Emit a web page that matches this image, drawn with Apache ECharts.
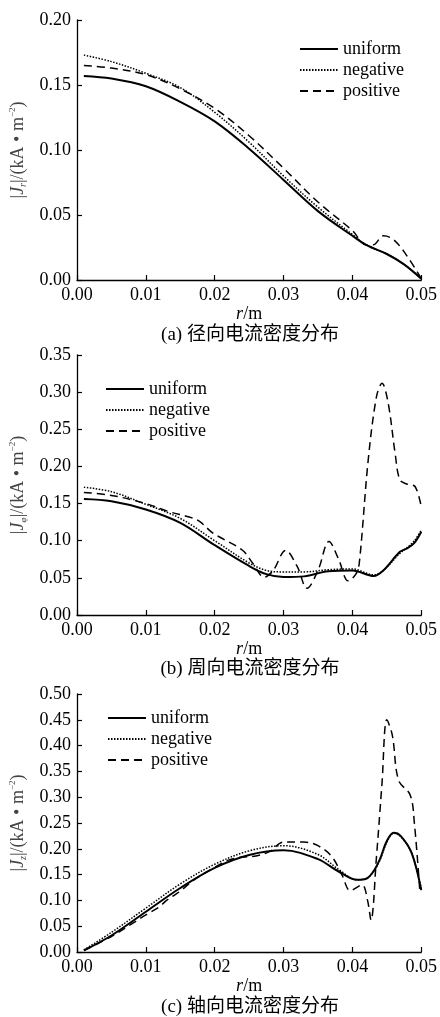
<!DOCTYPE html>
<html>
<head>
<meta charset="utf-8">
<title>电流密度分布</title>
<script src="https://cdn.jsdelivr.net/npm/echarts@6/dist/echarts.min.js"></script>
<style>
  html, body { margin: 0; padding: 0; background: #fff; }
  #chart { width: 440px; height: 1017px; }
</style>
</head>
<body>
<div id="chart"></div>
<script>
'use strict';

var FONT = '"Liberation Serif", "Noto Sans CJK SC", serif';

var seriesNames = ['uniform', 'negative', 'positive'];
var captions = ['(a) 径向电流密度分布', '(b) 周向电流密度分布', '(c) 轴向电流密度分布'];

// (a) radial |Jr|
var rA = [0.001, 0.005, 0.01, 0.015, 0.02, 0.025, 0.03, 0.035, 0.04, 0.042, 0.045, 0.0475, 0.05];
var aUniform = [0.157, 0.155, 0.149, 0.137, 0.122, 0.101, 0.077, 0.053, 0.034, 0.027, 0.020, 0.012, 0.001];
var aNegative = [0.173, 0.168, 0.159, 0.148, 0.129, 0.106, 0.080, 0.056, 0.035, 0.027, 0.020, 0.012, 0.001];
var rAp = [0.001, 0.005, 0.01, 0.015, 0.02, 0.025, 0.03, 0.035, 0.04, 0.042, 0.043, 0.0445, 0.046, 0.048, 0.05];
var aPositive = [0.165, 0.163, 0.158, 0.147, 0.132, 0.111, 0.086, 0.060, 0.038, 0.027, 0.027, 0.034, 0.031, 0.018, 0.001];

// (b) azimuthal |Jphi|
var rB = [0.001, 0.005, 0.01, 0.015, 0.02, 0.025, 0.0275, 0.03, 0.033, 0.0365, 0.04, 0.0431, 0.0445, 0.0469, 0.048, 0.049, 0.05];
var bUniform = [0.156, 0.153, 0.142, 0.124, 0.094, 0.066, 0.055, 0.051, 0.052, 0.059, 0.060, 0.0525, 0.060, 0.085, 0.090, 0.097, 0.112];
var bNegative = [0.172, 0.166, 0.149, 0.130, 0.100, 0.070, 0.060, 0.058, 0.058, 0.061, 0.062, 0.054, 0.060, 0.083, 0.091, 0.100, 0.114];
var rBp = [0.001, 0.005, 0.01, 0.0134, 0.0163, 0.0178, 0.0195, 0.0207, 0.024, 0.0255, 0.0272, 0.0285, 0.0303, 0.032, 0.0334, 0.035, 0.0366, 0.038, 0.0394, 0.0405, 0.041, 0.0423, 0.0435, 0.0443, 0.0452, 0.0462, 0.0469, 0.048, 0.0491, 0.05];
var bPositive = [0.165, 0.161, 0.150, 0.139, 0.132, 0.126, 0.112, 0.105, 0.0875, 0.070, 0.051, 0.060, 0.087, 0.065, 0.036, 0.060, 0.099, 0.075, 0.046, 0.055, 0.070, 0.209, 0.294, 0.312, 0.285, 0.218, 0.182, 0.176, 0.173, 0.146];

// (c) axial |Jz|
var rC = [0.001, 0.005, 0.01, 0.015, 0.02, 0.025, 0.03, 0.035, 0.038, 0.0407, 0.042, 0.043, 0.044, 0.045, 0.046, 0.047, 0.0486, 0.05];
var cUniform = [0.003, 0.032, 0.078, 0.124, 0.163, 0.188, 0.197, 0.180, 0.156, 0.140, 0.142, 0.155, 0.180, 0.215, 0.231, 0.225, 0.192, 0.120];
var cNegative = [0.004, 0.038, 0.085, 0.132, 0.170, 0.196, 0.206, 0.189, 0.160, 0.140, 0.142, 0.155, 0.178, 0.213, 0.230, 0.224, 0.192, 0.123];
var rCp = [0.001, 0.005, 0.008, 0.01, 0.012, 0.013, 0.015, 0.017, 0.02, 0.022, 0.024, 0.026, 0.028, 0.03, 0.033, 0.035, 0.037, 0.0385, 0.0397, 0.0414, 0.0422, 0.0427, 0.0435, 0.0443, 0.045, 0.0458, 0.0467, 0.0484, 0.049, 0.0498];
var cPositive = [0.003, 0.030, 0.055, 0.072, 0.088, 0.100, 0.118, 0.140, 0.164, 0.178, 0.184, 0.186, 0.195, 0.213, 0.213, 0.206, 0.185, 0.149, 0.119, 0.130, 0.100, 0.062, 0.185, 0.327, 0.450, 0.420, 0.333, 0.304, 0.250, 0.117];

// axis ranges (ticks every 0.01 on x, every 0.05 on y)
var xMax = 0.05;
var yMax = [0.20, 0.35, 0.50];
var ySub = ['{si|r}', '{s|φ}', '{si|z}'];

function zip(xs, ys) {
  return xs.map(function (x, i) { return [x, ys[i]]; });
}

var lineStyles = {
  uniform: { color: '#000', width: 2, type: 'solid' },
  negative: { color: '#000', width: 1.5, type: [1.5, 1.5] },
  positive: { color: '#000', width: 1.5, type: [8, 5] }
};

var panels = [
  [zip(rA, aUniform), zip(rA, aNegative), zip(rAp, aPositive)],
  [zip(rB, bUniform), zip(rB, bNegative), zip(rBp, bPositive)],
  [zip(rC, cUniform), zip(rC, cNegative), zip(rCp, cPositive)]
];

var gridTops = [20, 355, 694];
var gridHeights = [260, 260, 258];
var legendPos = [[294, 35], [100, 375], [102, 704]];
var captionTops = [326, 660, 998];

var grids = [], xAxes = [], yAxes = [], series = [], legends = [], graphics = [];

gridTops.forEach(function (top, k) {
  grids.push({ left: 77, top: top, width: 346, height: gridHeights[k] });

  xAxes.push({
    type: 'value', gridIndex: k, min: 0, max: xMax, interval: 0.01,
    name: '{i|r}/m', nameLocation: 'middle', nameGap: 22,
    nameTextStyle: {
      fontFamily: FONT, fontSize: 18, color: '#000',
      rich: { i: { fontFamily: FONT, fontSize: 18, fontStyle: 'italic', color: '#000' } }
    },
    axisLine: { lineStyle: { color: '#000', width: 1.3 } },
    axisTick: { inside: true, length: 5, lineStyle: { color: '#000', width: 1.2 } },
    axisLabel: { fontFamily: FONT, fontSize: 18, color: '#000', margin: 6,
      formatter: function (v) { return v.toFixed(2); } },
    splitLine: { show: false }
  });

  yAxes.push({
    type: 'value', gridIndex: k, min: 0, max: yMax[k], interval: 0.05,
    name: '|{i|J}' + ySub[k] + '|/(kA • m{sup|−2})',
    nameLocation: 'middle', nameRotate: 90, nameGap: 45,
    nameTextStyle: {
      fontFamily: FONT, fontSize: 18, color: '#444', lineHeight: 20,
      rich: {
        i: { fontFamily: FONT, fontSize: 18, fontStyle: 'italic', color: '#444', lineHeight: 20 },
        si: { fontFamily: FONT, fontSize: 10, fontStyle: 'italic', color: '#444', verticalAlign: 'bottom', lineHeight: 20 },
        s: { fontFamily: FONT, fontSize: 9, color: '#444', verticalAlign: 'bottom', lineHeight: 20 },
        sup: { fontFamily: FONT, fontSize: 9, color: '#444', verticalAlign: 'top', lineHeight: 20 }
      }
    },
    axisLine: { show: true, lineStyle: { color: '#000', width: 1.3 } },
    axisTick: { show: true, inside: true, length: 5, lineStyle: { color: '#000', width: 1.2 } },
    axisLabel: { fontFamily: FONT, fontSize: 18, color: '#000', margin: 6,
      formatter: function (v) { return v.toFixed(2); } },
    splitLine: { show: false }
  });

  seriesNames.forEach(function (name, j) {
    series.push({
      name: name, type: 'line', xAxisIndex: k, yAxisIndex: k,
      data: panels[k][j], smooth: 0.35, symbol: 'none', showSymbol: false,
      lineStyle: lineStyles[name], itemStyle: { color: '#000' },
      z: 3 - j
    });
  });

  // legend: line sample only, the symbol is hidden
  legends.push({
    orient: 'vertical', left: legendPos[k][0], top: legendPos[k][1],
    data: seriesNames, selectedMode: false,
    itemWidth: 38, itemHeight: 14, itemGap: 3,
    itemStyle: { opacity: 0 },
    textStyle: { fontFamily: FONT, fontSize: 18, color: '#000' }
  });

  graphics.push({
    type: 'text', x: 250, y: captionTops[k],
    style: { text: captions[k], fontFamily: FONT, fontSize: 19, fill: '#000', textAlign: 'center', textVerticalAlign: 'top' }
  });
});

var myChart = echarts.init(document.getElementById('chart'));
myChart.setOption({
  animation: false,
  backgroundColor: '#fff',
  grid: grids,
  xAxis: xAxes,
  yAxis: yAxes,
  legend: legends,
  series: series,
  graphic: graphics
});
</script>
</body>
</html>
